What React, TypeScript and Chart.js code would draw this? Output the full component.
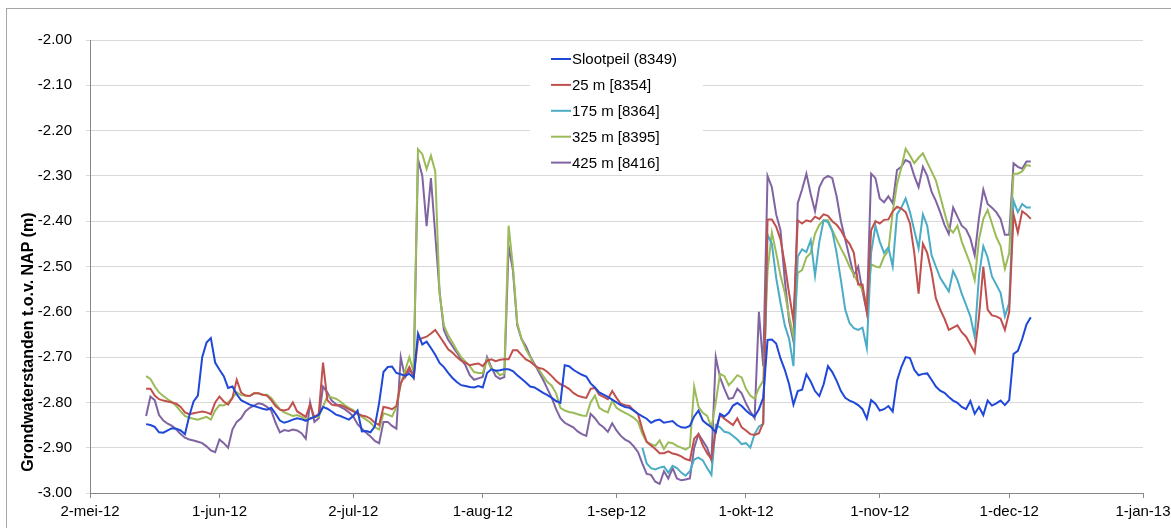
import React, { useEffect, useRef } from 'react';
import { Chart, registerables } from 'chart.js';

Chart.register(...registerables);

// x values are days after 2-mei-12
const startDay = 13;
const cyanStartDay = 128;

const tickDays = [0, 30, 61, 91, 122, 152, 183, 213, 244];
const tickLabels = ['2-mei-12', '1-jun-12', '2-jul-12', '1-aug-12', '1-sep-12', '1-okt-12', '1-nov-12', '1-dec-12', '1-jan-13'];
const yTickValues = [-3.0, -2.9, -2.8, -2.7, -2.6, -2.5, -2.4, -2.3, -2.2, -2.1, -2.0];

const seriesLabels = ['Slootpeil (8349)', '25 m [8354]', '175 m [8364]', '325 m [8395]', '425 m [8416]'];
const seriesColors = ['#1f48d8', '#c0504d', '#4bacc6', '#9bbb59', '#8064a2'];

const slootpeil = [
  -2.848, -2.850, -2.854, -2.866, -2.867, -2.862, -2.857, -2.858, -2.862, -2.870,
  -2.830, -2.798, -2.785, -2.700, -2.668, -2.658, -2.712, -2.728, -2.742, -2.768,
  -2.765, -2.782, -2.795, -2.800, -2.805, -2.808, -2.811, -2.814, -2.816, -2.812,
  -2.825, -2.840, -2.845, -2.842, -2.838, -2.835, -2.837, -2.841, -2.836, -2.832,
  -2.828, -2.810, -2.814, -2.820, -2.827, -2.830, -2.834, -2.838, -2.830, -2.818,
  -2.864, -2.863, -2.866, -2.853, -2.801, -2.733, -2.722, -2.721, -2.735, -2.738,
  -2.741, -2.737, -2.746, -2.648, -2.672, -2.666, -2.680, -2.695, -2.713, -2.722,
  -2.735, -2.746, -2.755, -2.762, -2.764, -2.766, -2.767, -2.764, -2.767, -2.735,
  -2.727, -2.730, -2.729, -2.727, -2.727, -2.731, -2.740, -2.748, -2.756, -2.765,
  -2.767, -2.773, -2.779, -2.784, -2.790, -2.797, -2.801, -2.718, -2.720, -2.728,
  -2.734, -2.739, -2.743, -2.758, -2.767, -2.778, -2.783, -2.788, -2.794, -2.800,
  -2.806, -2.810, -2.812, -2.818, -2.825, -2.831, -2.836, -2.845, -2.840, -2.838,
  -2.845, -2.843, -2.841, -2.850, -2.855, -2.856, -2.852, -2.831, -2.818, -2.840,
  -2.848, -2.855, -2.866, -2.825, -2.831, -2.823, -2.807, -2.801, -2.808, -2.818,
  -2.826, -2.831, -2.815, -2.790, -2.662, -2.661, -2.670, -2.703, -2.728, -2.760,
  -2.805, -2.775, -2.772, -2.738, -2.754, -2.775, -2.786, -2.760, -2.720, -2.733,
  -2.752, -2.775, -2.790, -2.796, -2.800, -2.806, -2.815, -2.836, -2.795, -2.803,
  -2.818, -2.815, -2.808, -2.820, -2.752, -2.722, -2.700, -2.702, -2.728, -2.740,
  -2.737, -2.736, -2.750, -2.765, -2.774, -2.779, -2.788, -2.796, -2.801, -2.810,
  -2.815, -2.797, -2.825, -2.810, -2.828, -2.796, -2.807, -2.802, -2.796, -2.806,
  -2.795, -2.693, -2.686, -2.660, -2.628, -2.612,
];

const m25 = [
  -2.770, -2.770, -2.785, -2.793, -2.796, -2.798, -2.800, -2.803, -2.810, -2.822,
  -2.826, -2.824, -2.822, -2.820, -2.822, -2.826, -2.800, -2.787, -2.798, -2.805,
  -2.790, -2.750, -2.778, -2.785, -2.786, -2.780, -2.780, -2.783, -2.785, -2.795,
  -2.808, -2.816, -2.818, -2.815, -2.800, -2.820, -2.826, -2.832, -2.805, -2.833,
  -2.825, -2.712, -2.795, -2.805, -2.807, -2.806, -2.810, -2.815, -2.820, -2.825,
  -2.829, -2.831, -2.836, -2.845, -2.850, -2.810, -2.812, -2.815, -2.808, -2.758,
  -2.740, -2.722, -2.745, -2.662, -2.658, -2.655, -2.648, -2.640, -2.654, -2.668,
  -2.683, -2.690, -2.700, -2.708, -2.712, -2.718, -2.716, -2.714, -2.720, -2.708,
  -2.705, -2.709, -2.706, -2.705, -2.705, -2.685, -2.685, -2.695, -2.705, -2.710,
  -2.718, -2.724, -2.726, -2.733, -2.742, -2.752, -2.760, -2.764, -2.770, -2.779,
  -2.785, -2.788, -2.790, -2.770, -2.768, -2.783, -2.788, -2.793, -2.775, -2.790,
  -2.803, -2.806, -2.808, -2.818, -2.826, -2.860, -2.887, -2.895, -2.903, -2.912,
  -2.912, -2.908, -2.913, -2.915, -2.919, -2.925, -2.928, -2.880, -2.870, -2.895,
  -2.912, -2.925, -2.860, -2.828, -2.836, -2.843, -2.850, -2.835, -2.855, -2.862,
  -2.870, -2.872, -2.868, -2.845, -2.396, -2.396, -2.412, -2.440, -2.495, -2.560,
  -2.620, -2.398, -2.405, -2.398, -2.401, -2.390, -2.395, -2.385, -2.388, -2.400,
  -2.408, -2.420, -2.438, -2.450, -2.470, -2.540, -2.540, -2.600, -2.420, -2.400,
  -2.405, -2.397, -2.396, -2.378, -2.368, -2.372, -2.380, -2.405, -2.470, -2.560,
  -2.450, -2.470, -2.512, -2.570, -2.595, -2.615, -2.640, -2.635, -2.630, -2.645,
  -2.655, -2.672, -2.690, -2.610, -2.500, -2.595, -2.608, -2.610, -2.615, -2.640,
  -2.600, -2.385, -2.425, -2.378, -2.385, -2.395,
];

const m175 = [
  -2.900, -2.935, -2.945, -2.948, -2.944, -2.942, -2.955, -2.940, -2.945, -2.955,
  -2.962, -2.952, -2.926, -2.922, -2.928, -2.945, -2.960, -2.850, -2.855, -2.865,
  -2.867, -2.874, -2.882, -2.892, -2.890, -2.900, -2.870, -2.853, -2.848, -2.430,
  -2.450, -2.525, -2.580, -2.630, -2.660, -2.720, -2.478, -2.462, -2.468, -2.442,
  -2.520, -2.445, -2.398, -2.402, -2.422, -2.470, -2.530, -2.595, -2.625, -2.636,
  -2.640, -2.635, -2.680, -2.470, -2.410, -2.445, -2.470, -2.458, -2.500, -2.385,
  -2.370, -2.350, -2.380, -2.420, -2.460, -2.385, -2.410, -2.475, -2.500, -2.525,
  -2.540, -2.555, -2.510, -2.530, -2.560, -2.585, -2.610, -2.655, -2.520, -2.455,
  -2.480, -2.522, -2.540, -2.558, -2.610, -2.580, -2.355, -2.380, -2.362, -2.370,
  -2.370,
];

const m325 = [
  -2.742, -2.748, -2.765, -2.778, -2.786, -2.793, -2.799, -2.808, -2.820, -2.830,
  -2.834, -2.836, -2.838, -2.835, -2.832, -2.838, -2.818, -2.806, -2.807, -2.800,
  -2.790, -2.778, -2.784, -2.785, -2.786, -2.780, -2.780, -2.783, -2.783, -2.790,
  -2.803, -2.815, -2.822, -2.826, -2.830, -2.828, -2.832, -2.838, -2.835, -2.832,
  -2.831, -2.810, -2.786, -2.789, -2.792, -2.798, -2.806, -2.812, -2.817, -2.826,
  -2.832, -2.838, -2.845, -2.855, -2.860, -2.824, -2.827, -2.831, -2.810, -2.760,
  -2.730, -2.700, -2.733, -2.241, -2.252, -2.285, -2.255, -2.290, -2.560, -2.630,
  -2.652, -2.668, -2.685, -2.700, -2.710, -2.720, -2.733, -2.735, -2.735, -2.705,
  -2.726, -2.730, -2.740, -2.736, -2.410, -2.500, -2.625, -2.660, -2.683, -2.700,
  -2.718, -2.727, -2.742, -2.755, -2.763, -2.780, -2.812, -2.818, -2.821, -2.823,
  -2.826, -2.829, -2.830, -2.800, -2.785, -2.812, -2.818, -2.822, -2.796, -2.812,
  -2.818, -2.823, -2.828, -2.834, -2.843, -2.870, -2.887, -2.892, -2.896, -2.884,
  -2.903, -2.888, -2.890, -2.896, -2.900, -2.904, -2.898, -2.765, -2.810, -2.823,
  -2.830, -2.855, -2.800, -2.737, -2.742, -2.762, -2.752, -2.740, -2.745, -2.770,
  -2.785, -2.792, -2.768, -2.752, -2.510, -2.425, -2.470, -2.520, -2.558, -2.610,
  -2.655, -2.514, -2.508, -2.480, -2.470, -2.428, -2.408, -2.398, -2.398, -2.420,
  -2.440, -2.460, -2.478, -2.500, -2.518, -2.536, -2.552, -2.585, -2.495, -2.500,
  -2.502, -2.478, -2.465, -2.380, -2.318, -2.282, -2.240, -2.255, -2.272, -2.260,
  -2.250, -2.270, -2.290, -2.310, -2.345, -2.381, -2.415, -2.425, -2.410, -2.445,
  -2.470, -2.495, -2.530, -2.440, -2.395, -2.375, -2.405, -2.435, -2.455, -2.505,
  -2.470, -2.295, -2.295, -2.290, -2.276, -2.278,
];

const m425 = [
  -2.830, -2.787, -2.795, -2.828, -2.840, -2.847, -2.852, -2.860, -2.870, -2.878,
  -2.882, -2.884, -2.887, -2.890, -2.897, -2.906, -2.910, -2.882, -2.890, -2.900,
  -2.860, -2.843, -2.835, -2.820, -2.812, -2.807, -2.802, -2.804, -2.810, -2.818,
  -2.845, -2.866, -2.861, -2.863, -2.860, -2.862, -2.868, -2.880, -2.800, -2.843,
  -2.835, -2.765, -2.778, -2.796, -2.804, -2.810, -2.815, -2.822, -2.831, -2.848,
  -2.858, -2.867, -2.875, -2.885, -2.890, -2.843, -2.843, -2.852, -2.858, -2.700,
  -2.745, -2.730, -2.737, -2.263, -2.300, -2.411, -2.305, -2.430, -2.555, -2.640,
  -2.662, -2.676, -2.690, -2.705, -2.718, -2.740, -2.750, -2.747, -2.744, -2.700,
  -2.722, -2.742, -2.748, -2.744, -2.455, -2.508, -2.630, -2.660, -2.676, -2.698,
  -2.715, -2.733, -2.750, -2.770, -2.790, -2.815, -2.835, -2.845, -2.850, -2.855,
  -2.864, -2.870, -2.874, -2.825, -2.835, -2.848, -2.855, -2.865, -2.846, -2.862,
  -2.874, -2.882, -2.887, -2.897, -2.910, -2.935, -2.958, -2.960, -2.975, -2.980,
  -2.952, -2.968, -2.945, -2.968, -2.972, -2.970, -2.968, -2.900, -2.870, -2.885,
  -2.900, -2.928, -2.700, -2.745, -2.770, -2.792, -2.790, -2.770, -2.780, -2.802,
  -2.820, -2.835, -2.600, -2.720, -2.300, -2.325, -2.385, -2.420, -2.530, -2.620,
  -2.665, -2.360, -2.330, -2.295, -2.340, -2.378, -2.325, -2.306, -2.300, -2.305,
  -2.345, -2.400, -2.440, -2.480, -2.520, -2.500, -2.555, -2.600, -2.295, -2.305,
  -2.350, -2.358, -2.345, -2.360, -2.287, -2.280, -2.265, -2.270, -2.300, -2.325,
  -2.280, -2.300, -2.335, -2.355, -2.380, -2.408, -2.428, -2.370, -2.390, -2.410,
  -2.418, -2.438, -2.475, -2.392, -2.330, -2.362, -2.370, -2.380, -2.395, -2.430,
  -2.430, -2.272, -2.280, -2.284, -2.268, -2.268,
];

const seriesValues = [slootpeil, m25, m175, m325, m425];
const seriesStarts = [startDay, startDay, cyanStartDay, startDay, startDay];

const yTitle = 'Grondwaterstanden t.o.v. NAP (m)';
const FONT = "'Liberation Sans', Arial, sans-serif";

const framePlugin = {
  id: 'frameAndLegend',
  beforeDraw(chart: any) {
    const ctx = chart.ctx;
    ctx.save();
    ctx.fillStyle = '#ffffff';
    ctx.fillRect(0, 0, chart.width, chart.height);
    ctx.strokeStyle = '#a6a6a6';
    ctx.lineWidth = 1;
    ctx.strokeRect(6.5, 8.5, chart.width + 20, chart.height + 20);
    ctx.restore();
  },
  afterDraw(chart: any) {
    const ctx = chart.ctx;
    ctx.save();
    // legend box
    ctx.fillStyle = '#ffffff';
    ctx.fillRect(530, 46, 173, 126);
    chart.data.datasets.forEach((ds: any, i: number) => {
      const y = 59 + i * 25.9;
      ctx.strokeStyle = ds.borderColor;
      ctx.lineWidth = 2;
      ctx.beginPath();
      ctx.moveTo(551, y);
      ctx.lineTo(571, y);
      ctx.stroke();
      ctx.fillStyle = '#000000';
      ctx.font = `15px ${FONT}`;
      ctx.textAlign = 'left';
      ctx.textBaseline = 'middle';
      ctx.fillText(ds.label, 572, y + 1);
    });
    // y axis title
    ctx.translate(29, 342);
    ctx.rotate(-Math.PI / 2);
    ctx.font = `bold 16px ${FONT}`;
    ctx.fillStyle = '#000000';
    ctx.textAlign = 'center';
    ctx.textBaseline = 'middle';
    ctx.fillText(yTitle, 0, 0);
    ctx.restore();
  },
};

export default function App() {
  const canvasRef = useRef<HTMLCanvasElement | null>(null);

  useEffect(() => {
    const canvas = canvasRef.current;
    if (!canvas) return;
    const datasets = seriesValues.map((vals, s) => ({
      label: seriesLabels[s],
      data: vals.map((v, i) => ({ x: seriesStarts[s] + i, y: v })),
      borderColor: seriesColors[s],
      backgroundColor: seriesColors[s],
      borderWidth: 2,
      pointRadius: 0,
      tension: 0,
      fill: false,
    }));
    const chart = new Chart(canvas, {
      type: 'line',
      data: { datasets },
      options: {
        animation: false,
        responsive: false,
        maintainAspectRatio: false,
        layout: { padding: { left: 0, top: 40, right: 28, bottom: 0 } },
        plugins: { legend: { display: false }, tooltip: { enabled: false } },
        scales: {
          x: {
            type: 'linear',
            min: tickDays[0],
            max: tickDays[tickDays.length - 1],
            afterBuildTicks: (scale: any) => {
              scale.ticks = tickDays.map((v) => ({ value: v }));
            },
            afterFit: (scale: any) => {
              scale.height = 35;
              scale.paddingLeft = 0;
              scale.paddingRight = 0;
            },
            ticks: {
              autoSkip: false,
              maxRotation: 0,
              minRotation: 0,
              padding: 5,
              color: '#000000',
              font: { family: FONT, size: 15 },
              callback: (_v: any, index: number) => tickLabels[index],
            },
            grid: { drawOnChartArea: false, drawTicks: true, tickLength: 5, color: '#868686' },
            border: { display: true, color: '#868686' },
          },
          y: {
            type: 'linear',
            min: -3,
            max: -2,
            afterBuildTicks: (scale: any) => {
              scale.ticks = yTickValues.map((v) => ({ value: v }));
            },
            afterFit: (scale: any) => {
              scale.width = 90;
              scale.paddingTop = 0;
              scale.paddingBottom = 0;
            },
            ticks: {
              padding: 14,
              color: '#000000',
              font: { family: FONT, size: 15 },
              callback: (v: any) => Number(v).toFixed(2),
            },
            grid: { color: '#d9d9d9', tickLength: 4, drawTicks: true },
            border: { display: true, color: '#868686' },
          },
        },
      },
      plugins: [framePlugin],
    });
    return () => chart.destroy();
  }, []);

  return (
    <div style={{ position: 'absolute', left: 0, top: 0, width: 1171, height: 528 }}>
      <canvas ref={canvasRef} width={1171} height={528} style={{ display: 'block' }} />
    </div>
  );
}
